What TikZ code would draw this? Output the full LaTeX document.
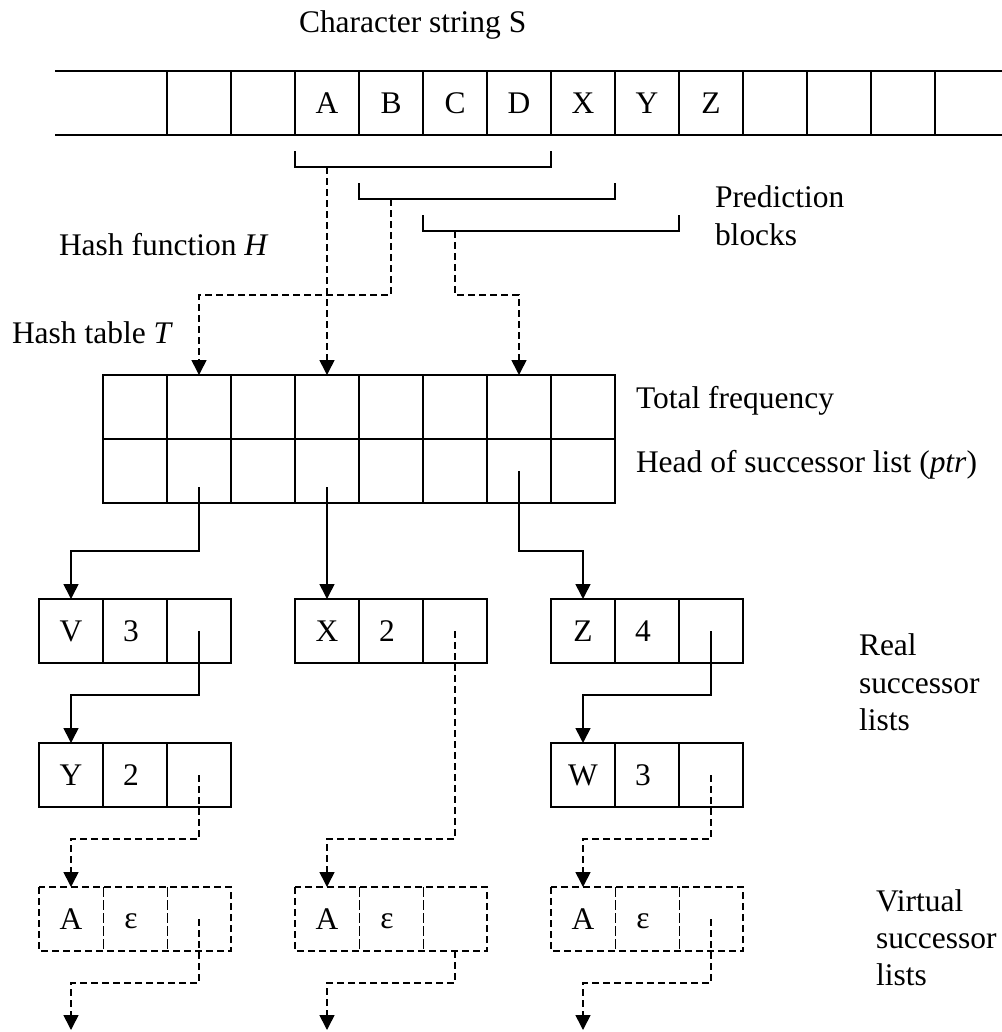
\documentclass[tikz,border=0pt]{standalone}
\usepackage{fontspec}
\setmainfont{Liberation Serif}
\usetikzlibrary{arrows.meta}
% pull a digit a little to the left inside its cell
\newcommand\lefted[1]{\kern-8bp#1}
\begin{document}
\begin{tikzpicture}[x=1bp, y=-1bp, line width=1.6bp,
  every node/.style={font=\fontsize{31.6}{39.5}\selectfont, inner sep=0pt, outer sep=0pt},
  cell/.style={draw, minimum width=64bp, minimum height=64bp},
  vcell/.style={minimum width=64bp, minimum height=64bp},
  lbl/.style={anchor=base west},
  ptr/.style={-{Triangle[length=15bp,width=15bp]}},
  dptr/.style={ptr, dash pattern=on 7bp off 4bp},
  vborder/.style={dash pattern=on 7bp off 4bp},
  vdivider/.style={line width=1bp, dash pattern=on 10bp off 3bp},
]
\useasboundingbox (0,0) rectangle (1002,1032);

% ---- character string S ----
\node[lbl] (title) at (299,32) {Character string S};
\draw (55,71) -- (1002,71);
\draw (55,135) -- (1002,135);
\foreach \x in {167,231,...,935} \draw (\x,71) -- (\x,135);
\foreach \c [count=\i] in {A,B,C,D,X,Y,Z}
  \node (s\c) at ({263+64*\i},103) {\c};

% ---- prediction blocks ----
\draw (295,151) |- (551,167) -- (551,151);
\draw (359,183) |- (615,199) -- (615,183);
\draw (423,215) |- (679,231) -- (679,215);
\coordinate (b1) at (327,167);
\coordinate (b2) at (391,199);
\coordinate (b3) at (455,231);
\node[lbl] (pred1) at (715,207) {Prediction};
\node[lbl] (pred2) at (715,245) {blocks};

\node[lbl] (hashfn) at (59,255) {Hash function \textit{H}};
\node[lbl] (hashtab) at (12,343) {Hash table \textit{T}};

% ---- hash table T ----
\foreach \i in {1,...,8} {
  \node[cell] (tf\i) at ({71+64*\i},407) {};
  \node[cell] (hp\i) at ({71+64*\i},471) {};
}
\node[lbl] (totfreq) at (636,408) {Total frequency};
\node[lbl] (headptr) at (636,472) {Head of successor list (\textit{ptr})};

% hashing of the blocks
\draw[dptr] (b1) -- (tf4.north);
\draw[dptr] (b2) -- (b2 |- 0,295) -- (tf2.north |- 0,295) -- (tf2.north);
\draw[dptr] (b3) -- (b3 |- 0,295) -- (tf7.north |- 0,295) -- (tf7.north);

% ---- real successor lists ----
\node[cell] (v1) at (71,631) {V};
\node[cell] (v2) at (135,631) {\lefted{3}};
\node[cell] (v3) at (199,631) {};
\node[cell] (x1) at (327,631) {X};
\node[cell] (x2) at (391,631) {\lefted{2}};
\node[cell] (x3) at (455,631) {};
\node[cell] (z1) at (583,631) {Z};
\node[cell] (z2) at (647,631) {\lefted{4}};
\node[cell] (z3) at (711,631) {};

\node[cell] (y1) at (71,775) {Y};
\node[cell] (y2) at (135,775) {\lefted{2}};
\node[cell] (y3) at (199,775) {};
\node[cell] (w1) at (583,775) {W};
\node[cell] (w2) at (647,775) {\lefted{3}};
\node[cell] (w3) at (711,775) {};

\node[lbl] (real1) at (859,655) {Real};
\node[lbl] (real2) at (859,693) {successor};
\node[lbl] (real3) at (859,730) {lists};

% ---- virtual successor lists ----
\foreach \n/\x in {va/71, vb/327, vc/583} {
  \node[vcell] (\n1) at (\x,919) {A};
  \node[vcell] (\n2) at (\x+64,921) {\lefted{ε}};
  \node[vcell] (\n3) at (\x+128,919) {};
  \draw[vborder] (\n1.north west) rectangle (\n3.south east);
  \draw[vdivider] (\n1.north east) -- (\n1.south east);
  \draw[vdivider] (\n3.north west) -- (\n3.south west);
}
\node[lbl] (virt1) at (876,911) {Virtual};
\node[lbl] (virt2) at (876,948) {successor};
\node[lbl] (virt3) at (876,985) {lists};

\coordinate (ea) at (71,1030);
\coordinate (eb) at (327,1030);
\coordinate (ec) at (583,1030);

% ---- pointers ----
\draw[ptr] ([yshift=-16bp]hp2.center) -- (hp2 |- 0,551) -- (v1.north |- 0,551) -- (v1.north);
\draw[ptr] ([yshift=-16bp]hp4.center) -- (x1.north);
\draw[ptr] (hp7.center) -- (hp7 |- 0,551) -- (z1.north |- 0,551) -- (z1.north);

\draw[ptr] (v3.center) -- (v3 |- 0,695) -- (y1.north |- 0,695) -- (y1.north);
\draw[ptr] (z3.center) -- (z3 |- 0,695) -- (w1.north |- 0,695) -- (w1.north);

\draw[dptr] (y3.center) -- (y3 |- 0,839) -- (va1.north |- 0,839) -- (va1.north);
\draw[dptr] (x3.center) -- (x3 |- 0,839) -- (vb1.north |- 0,839) -- (vb1.north);
\draw[dptr] (w3.center) -- (w3 |- 0,839) -- (vc1.north |- 0,839) -- (vc1.north);

\draw[dptr] (va3.center) -- (va3 |- 0,983) -- (ea |- 0,983) -- (ea);
\draw[dptr] (vb3.south) -- (vb3 |- 0,983) -- (eb |- 0,983) -- (eb);
\draw[dptr] (vc3.center) -- (vc3 |- 0,983) -- (ec |- 0,983) -- (ec);
\end{tikzpicture}
\end{document}
